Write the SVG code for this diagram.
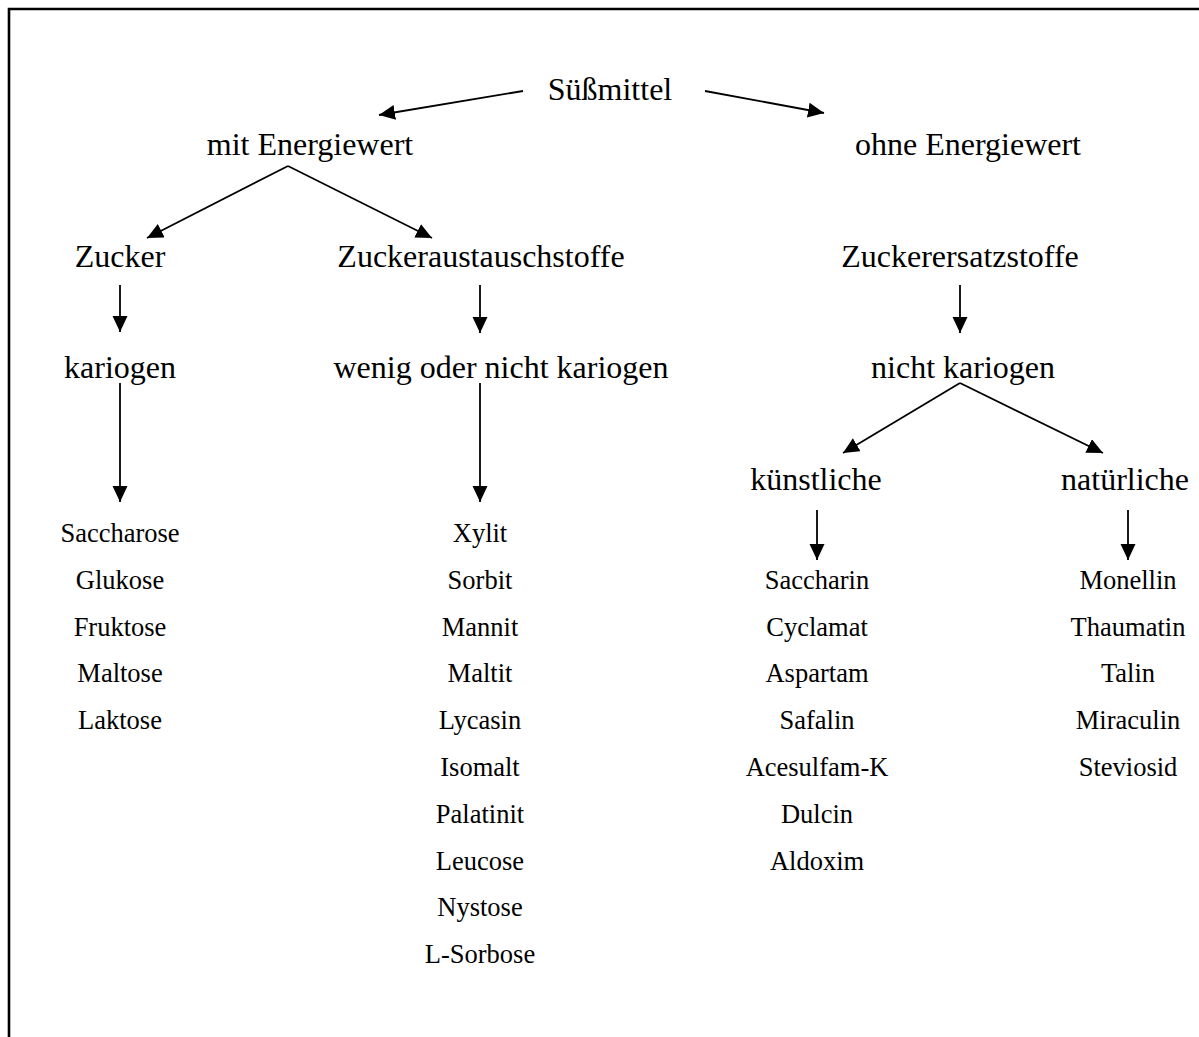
<svg xmlns="http://www.w3.org/2000/svg" width="1199" height="1037" viewBox="0 0 1199 1037">
<defs>
<marker id="ah" markerUnits="userSpaceOnUse" markerWidth="17" markerHeight="16" refX="16" refY="7.5" orient="auto">
<path d="M0,0 L16,7.5 L0,15 Z" fill="#000"/>
</marker>
<style>
.big{font-family:"Liberation Serif","Times New Roman",serif;font-size:32px;fill:#000;text-anchor:middle}
.sm{font-family:"Liberation Serif","Times New Roman",serif;font-size:26.5px;fill:#000;text-anchor:middle}
.c{stroke:#000;stroke-width:1.8;fill:none;marker-end:url(#ah)}
</style>
</defs>
<rect width="1199" height="1037" fill="#fff"/>
<path d="M9,1037 V9 H1199" fill="none" stroke="#000" stroke-width="2.6"/>
<g id="connectors">
<line class="c" x1="523" y1="91" x2="379" y2="115"/>
<line class="c" x1="705" y1="91" x2="824" y2="113"/>
<line class="c" x1="288" y1="166" x2="147" y2="238"/>
<line class="c" x1="288" y1="166" x2="432" y2="238"/>
<line class="c" x1="120" y1="285" x2="120" y2="332"/>
<line class="c" x1="480" y1="285" x2="480" y2="333"/>
<line class="c" x1="960" y1="285" x2="960" y2="333"/>
<line class="c" x1="120" y1="383" x2="120" y2="502"/>
<line class="c" x1="480" y1="383" x2="480" y2="502"/>
<line class="c" x1="960" y1="383" x2="843" y2="453"/>
<line class="c" x1="960" y1="383" x2="1103" y2="453"/>
<line class="c" x1="817" y1="510" x2="817" y2="560"/>
<line class="c" x1="1128" y1="510" x2="1128" y2="560"/>
</g>
<g id="suessmittel"><text class="big" x="610" y="100">Süßmittel</text></g>
<g id="mit-energiewert"><text class="big" x="310" y="155">mit Energiewert</text></g>
<g id="ohne-energiewert"><text class="big" x="968" y="155">ohne Energiewert</text></g>
<g id="zucker"><text class="big" x="120" y="267">Zucker</text></g>
<g id="zuckeraustauschstoffe"><text class="big" x="481" y="267">Zuckeraustauschstoffe</text></g>
<g id="zuckerersatzstoffe"><text class="big" x="960" y="267">Zuckerersatzstoffe</text></g>
<g id="kariogen"><text class="big" x="120" y="378">kariogen</text></g>
<g id="wenig-kariogen"><text class="big" x="501" y="378">wenig oder nicht kariogen</text></g>
<g id="nicht-kariogen"><text class="big" x="963" y="378">nicht kariogen</text></g>
<g id="kuenstliche"><text class="big" x="816" y="490">künstliche</text></g>
<g id="natuerliche"><text class="big" x="1125" y="490">natürliche</text></g>
<g id="list-zucker">
<text class="sm" x="120" y="542">Saccharose</text>
<text class="sm" x="120" y="589">Glukose</text>
<text class="sm" x="120" y="636">Fruktose</text>
<text class="sm" x="120" y="682">Maltose</text>
<text class="sm" x="120" y="729">Laktose</text>
</g>
<g id="list-austausch">
<text class="sm" x="480" y="542">Xylit</text>
<text class="sm" x="480" y="589">Sorbit</text>
<text class="sm" x="480" y="636">Mannit</text>
<text class="sm" x="480" y="682">Maltit</text>
<text class="sm" x="480" y="729">Lycasin</text>
<text class="sm" x="480" y="776">Isomalt</text>
<text class="sm" x="480" y="823">Palatinit</text>
<text class="sm" x="480" y="870">Leucose</text>
<text class="sm" x="480" y="916">Nystose</text>
<text class="sm" x="480" y="963">L-Sorbose</text>
</g>
<g id="list-kuenstlich">
<text class="sm" x="817" y="589">Saccharin</text>
<text class="sm" x="817" y="636">Cyclamat</text>
<text class="sm" x="817" y="682">Aspartam</text>
<text class="sm" x="817" y="729">Safalin</text>
<text class="sm" x="817" y="776">Acesulfam-K</text>
<text class="sm" x="817" y="823">Dulcin</text>
<text class="sm" x="817" y="870">Aldoxim</text>
</g>
<g id="list-natuerlich">
<text class="sm" x="1128" y="589">Monellin</text>
<text class="sm" x="1128" y="636">Thaumatin</text>
<text class="sm" x="1128" y="682">Talin</text>
<text class="sm" x="1128" y="729">Miraculin</text>
<text class="sm" x="1128" y="776">Steviosid</text>
</g>
</svg>
